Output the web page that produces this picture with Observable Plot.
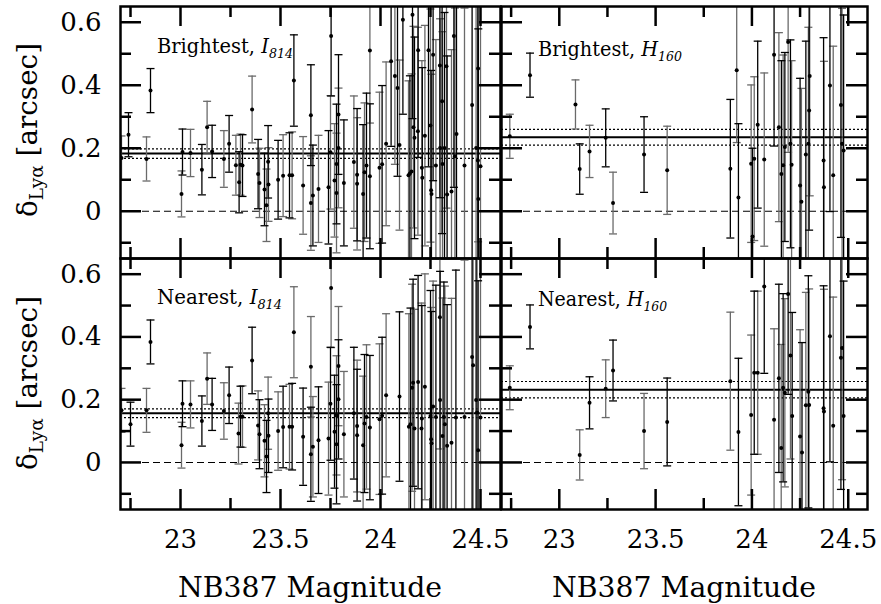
<!DOCTYPE html>
<html><head><meta charset="utf-8">
<script src="https://cdn.jsdelivr.net/npm/d3@7"></script>
<script src="https://cdn.jsdelivr.net/npm/@observablehq/plot@0.6"></script>
<style>
body{margin:0;background:#fff;}
#fig{position:relative;width:881px;height:604px;background:#fff;}
#fig svg{position:absolute;overflow:visible;}
</style></head><body>
<div id="fig"></div>
<script>
// ---- axes ----
const xDomain = [22.7, 24.6];
const yDomain = [-0.15, 0.65];
const xMajor = [23, 23.5, 24, 24.5];
const xMinor = [22.75, 23.25, 23.75, 24.25];
const yMajor = [0, 0.2, 0.4, 0.6];
const yMinor = [-0.1, 0.1, 0.3, 0.5];
const xTitle = "NB387 Magnitude";

// ---- panel texts & summary lines (TL, BL, TR, BR) ----
const panelNames = ["Brightest", "Nearest", "Brightest", "Nearest"];
const panelFilters = ["I", "I", "H", "H"];
const panelBands = ["814", "814", "160", "160"];
const meanOffsets = [0.183, 0.157, 0.235, 0.232];
const meanErrors = [0.015, 0.014, 0.025, 0.026];

// ---- data: [NB387 mag, offset (arcsec), error] ----
const brightestI814 = [
[22.705,0.169,0.07],[22.74,0.243,0.07],[22.83,0.166,0.07],[22.85,0.383,0.07],
[23.005,0.055,0.073],[23.01,0.188,0.073],[23.05,0.185,0.075],[23.107,0.132,0.08],
[23.133,0.267,0.082],[23.158,0.19,0.083],[23.217,0.166,0.09],[23.243,0.214,0.09],
[23.277,0.146,0.095],[23.293,0.092,0.097],[23.30,0.148,0.097],[23.31,0.145,0.098],
[23.358,0.323,0.106],[23.388,0.118,0.11],[23.395,0.09,0.11],[23.42,0.069,0.115],
[23.43,0.019,0.115],[23.438,0.157,0.115],[23.44,0.085,0.117],[23.488,0.1,0.125],
[23.513,0.113,0.13],[23.545,0.114,0.135],[23.558,0.114,0.138],[23.567,0.415,0.145],
[23.613,0.082,0.155],[23.652,0.305,0.16],[23.652,0.026,0.15],[23.662,0.05,0.16],
[23.69,0.071,0.17],[23.74,0.076,0.18],[23.75,0.187,0.18],[23.753,0.556,0.19],
[23.77,0.098,0.18],[23.78,0.15,0.19],[23.78,0.058,0.19],[23.79,0.307,0.19],
[23.79,0.201,0.19],[23.817,0.09,0.2],[23.867,0.156,0.21],[23.883,0.116,0.21],
[23.883,0.087,0.21],[23.913,0.055,0.22],[23.92,0.124,0.22],[23.93,0.145,0.23],
[23.947,0.51,0.23],[23.947,0.111,0.23],[23.995,0.138,0.24],[24.008,0.149,0.25],
[24.028,0.214,0.26],[24.053,0.476,0.27],[24.072,0.429,0.28],[24.085,0.391,0.28],
[24.095,0.21,0.27],[24.112,0.608,0.3],[24.14,0.114,0.3],[24.147,0.12,0.31],
[24.155,0.126,0.31],[24.16,0.624,0.33],[24.165,0.267,0.32],[24.17,0.233,0.32],
[24.187,0.254,0.33],[24.188,0.511,0.34],[24.207,0.138,0.34],[24.209,0.106,0.35],
[24.222,0.24,0.35],[24.24,0.511,0.37],[24.25,0.272,0.37],[24.253,0.067,0.38],
[24.255,0.055,0.38],[24.263,0.497,0.4],[24.277,0.145,0.4],[24.297,0.463,0.42],
[24.298,0.201,0.41],[24.308,0.349,0.42],[24.31,0.15,0.42],[24.32,0.201,0.43],
[24.33,0.46,0.45],[24.333,0.053,0.44],[24.355,0.063,0.45],[24.367,0.556,0.48],
[24.372,0.175,0.47],[24.38,0.245,0.48],[24.42,0.145,0.5],[24.458,0.337,0.52],
[24.478,0.201,0.53],[24.487,0.161,0.54],[24.488,0.453,0.55],[24.489,0.039,0.54],
[24.5,0.143,0.55]
];
const nearestI814 = [
[22.705,0.166,0.07],[22.75,0.122,0.07],[22.83,0.166,0.07],[22.85,0.384,0.07],
[23.005,0.055,0.073],[23.01,0.187,0.073],[23.05,0.185,0.075],[23.107,0.132,0.08],
[23.133,0.267,0.082],[23.158,0.185,0.083],[23.217,0.164,0.09],[23.243,0.214,0.09],
[23.29,0.092,0.097],[23.30,0.146,0.097],[23.31,0.146,0.098],
[23.358,0.325,0.106],[23.388,0.118,0.11],[23.395,0.09,0.11],[23.42,0.069,0.115],
[23.43,0.019,0.115],[23.438,0.157,0.115],[23.44,0.085,0.117],[23.488,0.1,0.125],
[23.513,0.113,0.13],[23.545,0.114,0.135],[23.558,0.114,0.138],[23.567,0.415,0.145],
[23.613,0.082,0.155],[23.652,0.305,0.16],[23.652,0.026,0.15],[23.662,0.05,0.16],
[23.69,0.071,0.17],[23.74,0.076,0.18],[23.75,0.187,0.18],[23.753,0.556,0.19],
[23.77,0.098,0.18],[23.78,0.15,0.19],[23.78,0.058,0.19],[23.79,0.307,0.19],
[23.79,0.201,0.19],[23.817,0.09,0.2],[23.867,0.157,0.21],[23.883,0.116,0.21],
[23.883,0.087,0.21],[23.913,0.055,0.22],[23.92,0.124,0.22],[23.93,0.145,0.23],
[23.947,0.111,0.23],[23.995,0.138,0.24],[24.008,0.149,0.25],
[24.028,0.214,0.26],[24.095,0.21,0.27],
[24.142,0.114,0.36],[24.15,0.122,0.37],[24.158,0.238,0.33],[24.163,0.254,0.33],
[24.17,0.108,0.38],[24.188,0.256,0.34],[24.205,0.108,0.4],[24.207,0.14,0.36],
[24.222,0.241,0.36],[24.25,0.148,0.4],[24.253,0.074,0.42],[24.255,0.061,0.42],
[24.263,0.178,0.4],[24.277,0.145,0.42],[24.297,0.463,0.42],[24.298,0.199,0.41],
[24.31,0.084,0.44],[24.317,0.145,0.43],[24.322,0.122,0.44],[24.333,0.053,0.45],
[24.355,0.063,0.46],[24.377,0.143,0.47],[24.42,0.145,0.5],[24.458,0.336,0.52],
[24.463,0.31,0.52],[24.478,0.199,0.53],[24.483,0.159,0.54],[24.488,0.039,0.54],
[24.5,0.143,0.55]
];
const brightestH160 = [
[22.743,0.238,0.07],[22.848,0.432,0.07],[23.084,0.339,0.078],[23.106,0.134,0.08],
[23.157,0.19,0.083],[23.241,0.233,0.092],[23.279,0.026,0.098],[23.44,0.18,0.12],
[23.56,0.13,0.14],[23.888,0.135,0.22],[23.921,0.448,0.23],[23.93,0.044,0.234],
[23.996,0.151,0.25],[24.003,-0.08,0.28],[24.012,0.167,0.26],[24.03,0.275,0.265],
[24.064,0.164,0.275],[24.115,0.497,0.29],[24.14,0.267,0.3],[24.153,0.118,0.36],
[24.162,0.146,0.35],[24.171,0.204,0.3],[24.188,0.537,0.35],[24.2,0.214,0.33],
[24.206,0.148,0.33],[24.25,0.082,0.34],[24.257,0.03,0.36],[24.28,0.18,0.36],
[24.293,0.214,0.37],[24.297,0.32,0.38],[24.3,0.429,0.38],[24.372,0.161,0.39],
[24.374,0.076,0.4],[24.405,0.399,0.4],[24.422,0.114,0.41],[24.462,0.337,0.42],
[24.468,0.214,0.43],[24.476,0.193,0.43]
];
const nearestH160 = [
[22.743,0.238,0.07],[22.848,0.432,0.07],[23.106,0.024,0.08],[23.157,0.19,0.083],
[23.241,0.235,0.092],[23.279,0.293,0.097],[23.44,0.1,0.12],[23.56,0.129,0.14],
[23.888,0.259,0.22],[23.93,0.097,0.235],[23.996,0.151,0.255],[24.012,0.286,0.26],
[24.03,0.286,0.26],[24.064,0.561,0.277],[24.115,0.136,0.29],[24.14,0.268,0.3],
[24.152,0.046,0.33],[24.162,0.238,0.3],[24.171,0.222,0.3],[24.188,0.537,0.32],
[24.2,0.341,0.33],[24.209,0.148,0.33],[24.25,0.083,0.34],[24.26,0.032,0.35],
[24.28,0.182,0.36],[24.293,0.225,0.37],[24.297,0.183,0.37],[24.372,0.173,0.39],
[24.374,0.162,0.39],[24.405,0.402,0.4],[24.422,0.117,0.41],[24.462,0.334,0.42],
[24.468,0.365,0.42],[24.476,0.148,0.43]
];

const SERIF = "'DejaVu Serif', serif";
const fig = document.getElementById("fig");
const capSymbol = {draw(ctx, size) { const w = Math.sqrt(size / Math.PI); ctx.moveTo(-w, 0); ctx.lineTo(w, 0); }};

function makePanel(idx, data, box) {
  const {left, top, width, height, mL, mT, mB, showY, showX} = box;
  const pw = width - mL, ph = height - mT - mB;
  const rows = data.map(([mag, val, err], i) => ({mag, val, lo: val - err, hi: val + err, tone: i % 2}));
  const m = meanOffsets[idx], e = meanErrors[idx];
  const marks = [
    Plot.ruleY([0], {y: d => d, stroke: "#000", strokeWidth: 1.1, strokeDasharray: "7,4"}),
    Plot.ruleY([m - e, m + e], {y: d => d, stroke: "#000", strokeWidth: 1.2, strokeDasharray: "2,2"}),
    Plot.ruleY([m], {y: d => d, stroke: "#000", strokeWidth: 2})
  ];
  for (const [tone, col] of [[0, "#6a6a6a"], [1, "#000"]]) {
    const sub = rows.filter(d => d.tone === tone);
    marks.push(
      Plot.ruleX(sub, {x: "mag", y1: "lo", y2: "hi", stroke: col, strokeWidth: 1.3, clip: true}),
      Plot.dot(sub, {x: "mag", y: "hi", symbol: capSymbol, r: 4, stroke: col, fill: "none", strokeWidth: 1.3, clip: true}),
      Plot.dot(sub, {x: "mag", y: "lo", symbol: capSymbol, r: 4, stroke: col, fill: "none", strokeWidth: 1.3, clip: true})
    );
  }
  marks.push(Plot.dot(rows, {x: "mag", y: "val", r: 2, fill: "#000", stroke: "none", clip: true}));
  const TW = 2.5;
  marks.push(
    Plot.tickY(yMajor, {y: d => d, insetRight: pw - 21, strokeWidth: TW}),
    Plot.tickY(yMajor, {y: d => d, insetLeft: pw - 21, strokeWidth: TW}),
    Plot.tickY(yMinor, {y: d => d, insetRight: pw - 11, strokeWidth: TW}),
    Plot.tickY(yMinor, {y: d => d, insetLeft: pw - 11, strokeWidth: TW}),
    Plot.tickX(xMajor, {x: d => d, insetBottom: ph - 20, strokeWidth: TW}),
    Plot.tickX(xMajor, {x: d => d, insetTop: ph - 20, strokeWidth: TW}),
    Plot.tickX(xMinor, {x: d => d, insetBottom: ph - 11, strokeWidth: TW}),
    Plot.tickX(xMinor, {x: d => d, insetTop: ph - 11, strokeWidth: TW}),
    Plot.frame({stroke: "#000", strokeWidth: TW})
  );
  if (showY) marks.push(Plot.axisY(yMajor, {anchor: "left", tickSize: 0, tickPadding: 19, fontSize: 26, label: null,
    tickFormat: d => d === 0 ? "0" : d.toFixed(1)}));
  if (showX) marks.push(Plot.axisX(xMajor, {anchor: "bottom", tickSize: 0, tickPadding: 20, fontSize: 26, label: null,
    tickFormat: d => String(d)}));
  const svg = Plot.plot({
    width, height, marginLeft: mL, marginRight: 0, marginTop: mT, marginBottom: mB,
    x: {domain: xDomain, axis: null}, y: {domain: yDomain, axis: null},
    style: {background: "transparent", fontFamily: SERIF},
    marks
  });
  svg.setAttribute("font-family", SERIF);
  svg.style.position = "absolute";
  svg.style.overflow = "visible";
  svg.style.left = left + "px";
  svg.style.top = top + "px";
  fig.appendChild(svg);
}

makePanel(0, brightestI814, {left: 0, top: 0, width: 500, height: 258, mL: 120, mT: 6, mB: 0, showY: true, showX: false});
makePanel(1, nearestI814, {left: 0, top: 258, width: 500, height: 346, mL: 120, mT: 0, mB: 95, showY: true, showX: true});
makePanel(2, brightestH160, {left: 501, top: 0, width: 366, height: 258, mL: 0, mT: 6, mB: 0, showY: false, showX: false});
makePanel(3, nearestH160, {left: 501, top: 258, width: 366, height: 346, mL: 0, mT: 0, mB: 95, showY: false, showX: true});

// ---- text overlay ----
const ov = d3.select(fig).append("svg").attr("width", 881).attr("height", 604)
  .style("left", "0px").style("top", "0px").style("pointer-events", "none")
  .attr("font-family", SERIF).style("font-family", SERIF).attr("fill", "#000");

const labelBoxes = [[157, 53, 136], [157, 304, 125], [538, 56, 144], [538, 306, 129]];
labelBoxes.forEach(([x, y, w], i) => {
  const t = ov.append("text").attr("x", x).attr("y", y).attr("font-size", 20)
    .attr("textLength", w).attr("lengthAdjust", "spacingAndGlyphs");
  t.append("tspan").text(panelNames[i] + ", ");
  t.append("tspan").attr("font-style", "italic").text(panelFilters[i]);
  t.append("tspan").attr("font-style", "italic").attr("font-size", 13).attr("dy", 5).text(panelBands[i]);
});

[130, 383].forEach(cy => {
  const t = ov.append("text").attr("transform", `translate(37,${cy}) rotate(-90)`)
    .attr("text-anchor", "middle").attr("font-size", 27)
    .attr("textLength", 174).attr("lengthAdjust", "spacingAndGlyphs");
  t.append("tspan").text("δ");
  t.append("tspan").attr("font-size", 18).attr("dy", 6).text("Lyα");
  t.append("tspan").attr("dy", -6).text(" [arcsec]");
});

[310, 684].forEach(cx => {
  ov.append("text").attr("x", cx).attr("y", 597).attr("text-anchor", "middle")
    .attr("font-size", 28).attr("textLength", 264).attr("lengthAdjust", "spacingAndGlyphs").text(xTitle);
});
</script></body></html>
